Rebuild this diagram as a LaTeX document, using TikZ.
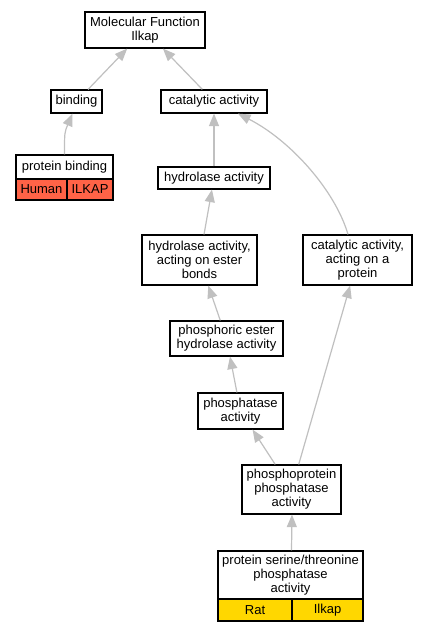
\documentclass[tikz,border=0pt]{standalone}
\usepackage{fontspec}
\setmainfont{Liberation Sans}
\usetikzlibrary{arrows.meta}
\definecolor{edgegray}{HTML}{C0C0C0}
\definecolor{humancol}{HTML}{FF6347}
\definecolor{ratcol}{HTML}{FFD700}
\tikzset{
  term/.style={draw, line width=1.2pt, fill=white, align=center, inner sep=0pt,
    font=\fontsize{13}{14}\selectfont},
  cell/.style={term, line width=1.2pt},
  isa/.style={draw=edgegray, line width=1.2pt, -{Triangle[length=12.5pt,width=10pt]}}
}
\begin{document}
\begin{tikzpicture}[x=1pt,y=-1pt]
\useasboundingbox[fill=white] (0,0) rectangle (427,632);

\node[term, minimum width=120pt, minimum height=36pt] (mf) at (145,30) {Molecular Function\\Ilkap};
\node[term, minimum width=51pt, minimum height=23pt] (bind) at (76.5,101.5) {binding};
\node[term, minimum width=106pt, minimum height=23pt] (cat) at (214,101.5) {catalytic activity};
\node[term, minimum width=97pt, minimum height=24pt] (pb) at (64.5,167) {protein binding};
\node[cell, fill=humancol, minimum width=51pt, minimum height=21pt] (pbhuman) at (41.5,189.5) {Human};
\node[cell, fill=humancol, minimum width=46pt, minimum height=21pt] (pbilkap) at (90,189.5) {ILKAP};
\node[term, minimum width=112pt, minimum height=22pt] (hyd) at (214,178) {hydrolase activity};
\node[term, minimum width=115pt, minimum height=50pt] (hydest) at (199.5,260) {hydrolase activity,\\acting on ester\\bonds};
\node[term, minimum width=109pt, minimum height=50pt] (catprot) at (357.5,260) {catalytic activity,\\acting on a\\protein};
\node[term, minimum width=113pt, minimum height=35pt] (phosest) at (226.5,338.5) {phosphoric ester\\hydrolase activity};
\node[term, minimum width=85pt, minimum height=36pt] (phosph) at (240.5,411) {phosphatase\\activity};
\node[term, minimum width=99pt, minimum height=49pt] (ppp) at (291.5,489.5) {phosphoprotein\\phosphatase\\activity};
\node[term, minimum width=145pt, minimum height=48pt] (pstp) at (290.5,575) {protein serine/threonine\\phosphatase\\activity};
\node[cell, fill=ratcol, minimum width=74pt, minimum height=22pt] (pstprat) at (255,610) {Rat};
\node[cell, fill=ratcol, minimum width=71pt, minimum height=22pt] (pstpilkap) at (327.5,610) {Ilkap};

\draw[isa] (bind) -- (mf);
\draw[isa] (cat) -- (mf);
\draw[isa] (pb.north) .. controls +(0,-22) .. ([xshift=-4pt]bind.south);
\draw[isa] (hyd) -- (cat);
\draw[isa] ([xshift=-9.5pt]catprot.north) .. controls (335,190) and (290,140) .. ([xshift=24pt]cat.south);
\draw[isa] (hydest) -- (hyd);
\draw[isa] (phosest) -- (hydest);
\draw[isa] (phosph) -- (phosest);
\draw[isa] (ppp) -- (phosph);
\draw[isa] (ppp) -- (catprot);
\draw[isa] ([xshift=1pt]pstp.north) -- ([xshift=0.5pt]ppp.south);
\end{tikzpicture}
\end{document}
